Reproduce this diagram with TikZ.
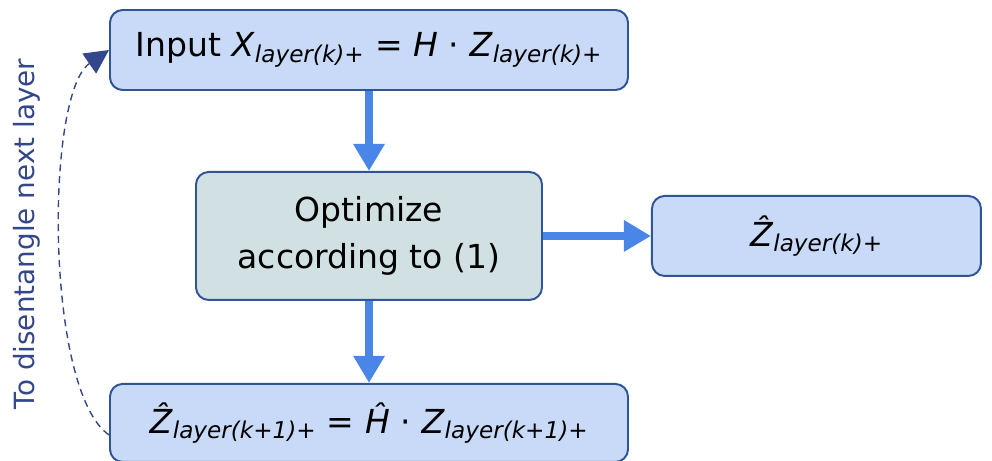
\documentclass[tikz,border=0pt]{standalone}
\usepackage{fontspec}
\setmainfont{DejaVu Sans}
\usepackage{xcolor}
\usepackage{tikz}
\usetikzlibrary{positioning,arrows.meta,calc}
\definecolor{boxblue}{HTML}{C9DAF8}
\definecolor{boxgrey}{HTML}{D0E0E3}
\definecolor{border}{HTML}{2F5597}
\definecolor{flow}{HTML}{4A86E8}
\definecolor{navy}{HTML}{34478A}
\newcommand{\lsub}[1]{\textsubscript{\itshape #1}}
\tikzset{
    block/.style={rectangle, draw=border, line width=1.4pt, rounded corners=9pt, fill=boxblue, minimum width=12.95cm, minimum height=2cm, align=center, font=\fontsize{23.5}{33}\selectfont},
    flowarrow/.style={-{Triangle[length=0.68cm,width=0.75cm]}, line width=0.22cm, color=flow},
    backarrow/.style={-{Triangle[length=0.6cm,width=0.6cm]}, line width=1pt, dash pattern=on 5pt off 3.5pt, color=navy},
    sidelabel/.style={rotate=90, text=navy, font=\fontsize{19.8}{24}\selectfont}
}

\begin{document}
\begin{tikzpicture}
\useasboundingbox (0,0) rectangle (24.8,-11.525);
\node[block] (input) at (9.225,-1.25) {Input \textit{X}\lsub{layer(k)+} = \textit{H} · \textit{Z}\lsub{layer(k)+}};
\node[block, fill=boxgrey, minimum width=8.65cm, minimum height=3.2cm, below=2cm of input] (optim) {Optimize\\according to (1)};
\node[block, minimum width=8.225cm, right=2.7cm of optim] (zlayer) {\textit{\^Z}\lsub{layer(k)+}};
\node[block, minimum height=1.95cm, below=2.05cm of optim] (nextz) {\textit{\^Z}\lsub{layer(k+1)+} = \textit{\^H} · \textit{Z}\lsub{layer(k+1)+}};
\node[sidelabel] (caption) at (0.675,-5.85) {To disentangle next layer};
\draw[flowarrow] (input) -- (optim);
\draw[flowarrow] (optim) -- (zlayer);
\draw[flowarrow] (optim) -- (nextz);
\draw[backarrow] ($(nextz.west)+(0,-0.3)$) .. controls +(-1.6,1.1) and +(-1.6,-1.1) .. (input.west);
\end{tikzpicture}
\end{document}
